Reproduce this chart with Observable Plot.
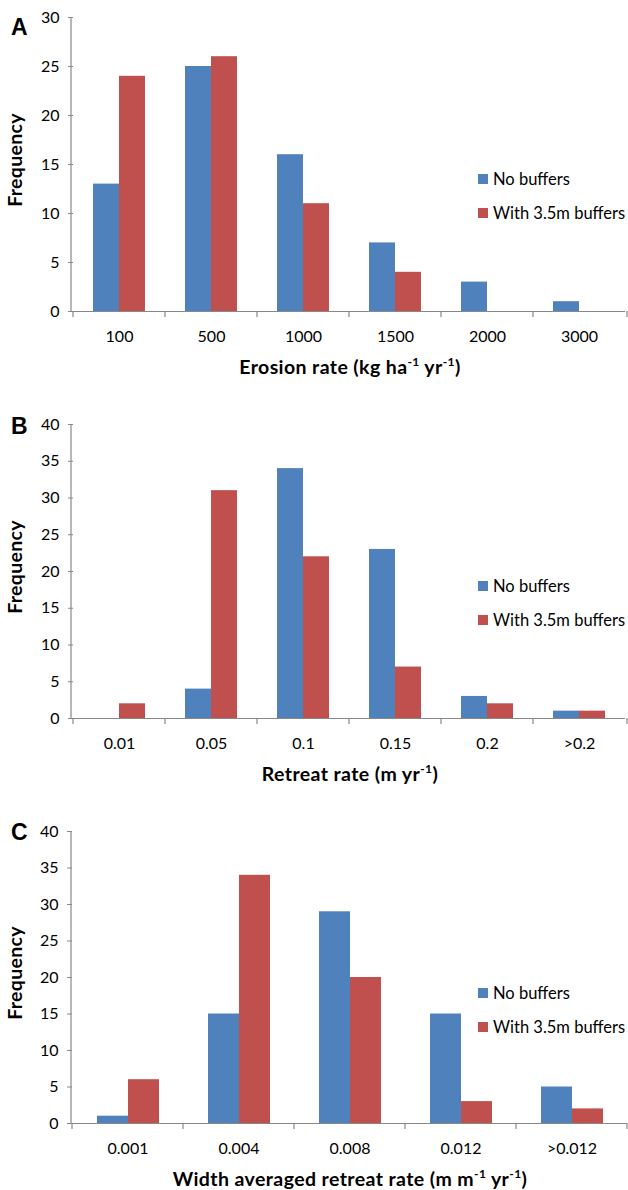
<!DOCTYPE html>
<html><head><meta charset="utf-8">
<script src="https://cdn.jsdelivr.net/npm/d3@7"></script>
<script src="https://cdn.jsdelivr.net/npm/@observablehq/plot@0.6"></script>
<style>
html,body{margin:0;padding:0;background:#fff;}
#wrap{width:628px;position:relative;font-family:Lato,"Open Sans",sans-serif;}
.panel{position:relative;width:628px;}
.panel svg{display:block;}
.letter{position:absolute;font-family:"Liberation Sans",Arial,sans-serif;font-weight:bold;font-size:23px;line-height:1;color:#000;}
.leg{position:absolute;left:478px;height:18px;display:flex;align-items:center;font-size:16.5px;color:#000;white-space:nowrap;}
.leg .sw{display:inline-block;width:10px;height:10px;margin-right:5px;}
</style></head><body><div id="wrap"></div>
<script>
// ---- data ----
const seriesNames = ["No buffers", "With 3.5m buffers"];
const seriesColors = ["#4F81BD", "#C0504D"];

const erosionCats = ["100", "500", "1000", "1500", "2000", "3000"];
const erosionNo   = [13, 25, 16, 7, 3, 1];
const erosionWith = [24, 26, 11, 4, 0, 0];

const retreatCats = ["0.01", "0.05", "0.1", "0.15", "0.2", ">0.2"];
const retreatNo   = [0, 4, 34, 23, 3, 1];
const retreatWith = [2, 31, 22, 7, 2, 1];

const widthCats = ["0.001", "0.004", "0.008", "0.012", ">0.012"];
const widthNo   = [1, 15, 29, 15, 5];
const widthWith = [6, 34, 20, 3, 2];

const wrap = document.getElementById("wrap");

function makePanel(cfg) {
  const {letter, letterTop, cats, no, wth, yMax, height, mt, mb, title} = cfg;
  const data = cats.flatMap((c, i) => [
    {cat: c, series: seriesNames[0], v: no[i]},
    {cat: c, series: seriesNames[1], v: wth[i]}
  ]);
  const div = document.createElement("div");
  div.className = "panel";
  const plot = Plot.plot({
    width: 628, height, marginTop: mt, marginBottom: mb, marginLeft: 71, marginRight: 1,
    style: {fontFamily: "Lato, 'Open Sans', sans-serif", fontSize: "16px", color: "#000", background: "#fff", overflow: "visible"},
    fx: {domain: cats, padding: 0, axis: "bottom", tickSize: 0, tickPadding: 19, label: null},
    x: {domain: seriesNames, paddingInner: 0, paddingOuter: 0.75, align: 0.5, axis: null},
    y: {domain: [0, yMax], ticks: d3.range(0, yMax + 1, 5), tickSize: 5, tickPadding: 9, label: null},
    color: {domain: seriesNames, range: seriesColors},
    marks: [
      Plot.barY(data, {fx: "cat", x: "series", y: "v", fill: "series"}),
      Plot.ruleY([0], {stroke: "#888", strokeWidth: 1.2})
    ]
  });
  const svg = d3.select(plot);
  svg.selectAll('g[aria-label="y-axis tick"] path').attr("stroke", "#888");
  const fx = plot.scale("fx"), y = plot.scale("y");
  const x0 = fx.range[0], x1 = fx.range[1];
  const y0 = y.apply(0), yTop = y.apply(yMax);
  const g = svg.append("g").attr("stroke", "#888").attr("stroke-width", 1.2);
  g.append("line").attr("x1", x0).attr("x2", x0).attr("y1", y0).attr("y2", yTop);
  cats.forEach((c) => {
    const xb = fx.apply(c);
    g.append("line").attr("x1", xb).attr("x2", xb).attr("y1", y0).attr("y2", y0 + 6);
  });
  g.append("line").attr("x1", x1).attr("x2", x1).attr("y1", y0).attr("y2", y0 + 6);
  // axis title
  const t = svg.append("text").attr("x", (x0 + x1) / 2 + 1).attr("y", y0 + 63)
    .attr("text-anchor", "middle").attr("font-weight", "bold").attr("font-size", 19.5)
    .attr("letter-spacing", 0.4).attr("fill", "#000");
  let prevSup = false;
  title.forEach(([s, sup]) => {
    const ts = t.append("tspan").text(s);
    if (sup) { ts.attr("font-size", 12).attr("dy", -8); }
    else if (prevSup) { ts.attr("dy", 8); }
    prevSup = !!sup;
  });
  // y title
  svg.append("text").attr("transform", `translate(22,${(y0 + yTop) / 2 - 4}) rotate(-90)`)
    .attr("text-anchor", "middle")
    .attr("font-weight", "bold").attr("font-size", 19.5).attr("letter-spacing", 0.3)
    .attr("fill", "#000").text("Frequency");
  div.appendChild(plot);
  // letter
  const L = document.createElement("div");
  L.className = "letter"; L.textContent = letter;
  L.style.left = "11px"; L.style.top = letterTop + "px";
  div.appendChild(L);
  // legend (centres 162 and 196 px below the plot top)
  seriesNames.forEach((s, i) => {
    const d = document.createElement("div");
    d.className = "leg";
    d.style.top = (yTop + 162 + i * 34 - 9) + "px";
    d.innerHTML = `<span class="sw" style="background:${seriesColors[i]}"></span>${s}`;
    div.appendChild(d);
  });
  wrap.appendChild(div);
}

makePanel({letter: "A", letterTop: 16, cats: erosionCats, no: erosionNo, wth: erosionWith, yMax: 30,
  height: 390, mt: 17, mb: 79,
  title: [["Erosion rate (kg ha"], ["-1", true], [" yr"], ["-1", true], [")"]]});
makePanel({letter: "B", letterTop: 25, cats: retreatCats, no: retreatNo, wth: retreatWith, yMax: 40,
  height: 410, mt: 34, mb: 82,
  title: [["Retreat rate (m yr"], ["-1", true], [")"]]});
makePanel({letter: "C", letterTop: 21, cats: widthCats, no: widthNo, wth: widthWith, yMax: 40,
  height: 390, mt: 31, mb: 67,
  title: [["Width averaged retreat rate (m m"], ["-1", true], [" yr"], ["-1", true], [")"]]});
</script>
</body></html>
